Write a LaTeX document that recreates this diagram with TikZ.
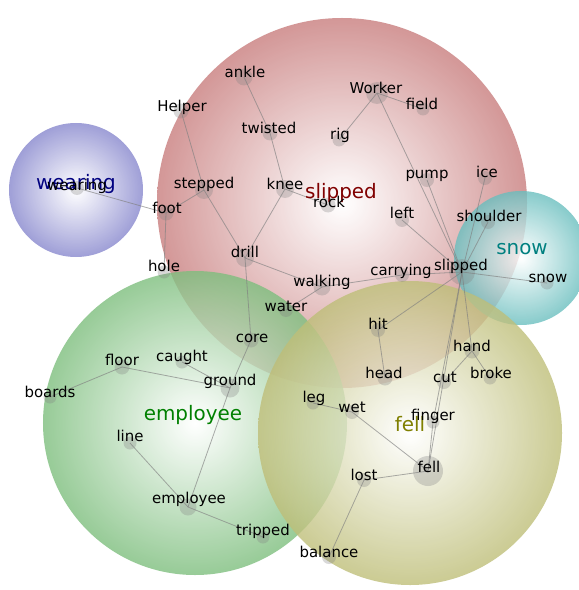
\documentclass[tikz,border=0pt]{standalone}
\usepackage{fontspec}
\setsansfont{DejaVu Sans}

\definecolor{slipcol}{RGB}{200,125,125}
\definecolor{wearcol}{RGB}{135,135,205}
\definecolor{snowcol}{RGB}{105,190,190}
\definecolor{emplcol}{RGB}{125,190,125}
\definecolor{fellcol}{RGB}{190,190,120}

\pgfdeclarelayer{bubbles}
\pgfdeclarelayer{links}
\pgfsetlayers{bubbles,links,main}

\tikzset{
  bubble/.style={inner color=white, fill opacity=0.8},
  dot/.style={circle, fill=gray, fill opacity=0.3, inner sep=0pt},
  word/.style={font=\sffamily\fontsize{15}{17}\selectfont, text=black, inner sep=0pt},
  topic/.style={font=\sffamily\fontsize{20}{22}\selectfont, inner sep=0pt},
  link/.style={draw=gray, opacity=0.65, line width=0.8bp},
}

\begin{document}
\begin{tikzpicture}[x=1bp,y=-1bp]
\useasboundingbox (0,0) rectangle (579,590);

% ---- topic bubbles ----
\begin{pgfonlayer}{bubbles}
  \shade[bubble, outer color=slipcol] (342,203) circle (185bp);
  \shade[bubble, outer color=wearcol] (76,190) circle (67bp);
  \shade[bubble, outer color=snowcol] (521,258) circle (67bp);
  \shade[bubble, outer color=emplcol] (195,423) circle (152bp);
  \shade[bubble, outer color=fellcol] (410,433) circle (152bp);
\end{pgfonlayer}

% ---- word dots ----
\node[dot, minimum size=17bp] (ankle) at (244,77) {};
\node[dot, minimum size=15bp] (helper) at (181,111) {};
\node[dot, minimum size=15bp] (twisted) at (270,133) {};
\node[dot, minimum size=18bp] (stepped) at (204,190) {};
\node[dot, minimum size=15bp] (foot) at (166,213) {};
\node[dot, minimum size=14bp] (wearing) at (77,188) {};
\node[dot, minimum size=18bp] (knee) at (285,189) {};
\node[dot, minimum size=15bp] (rock) at (328,205) {};
\node[dot, minimum size=18bp] (drill) at (245,258) {};
\node[dot, minimum size=13bp] (hole) at (164,272) {};
\node[dot, minimum size=17bp] (walking) at (322,287) {};
\node[dot, minimum size=14bp] (water) at (286,310) {};
\node[dot, minimum size=15bp] (core) at (251,340) {};
\node[dot, minimum size=22bp] (worker) at (377,93) {};
\node[dot, minimum size=13bp] (field) at (423,109) {};
\node[dot, minimum size=13bp] (rig) at (339,140) {};
\node[dot, minimum size=14bp] (pump) at (427,180) {};
\node[dot, minimum size=14bp] (ice) at (485,178) {};
\node[dot, minimum size=14bp] (leftw) at (402,220) {};
\node[dot, minimum size=14bp] (shoulder) at (488,222) {};
\node[dot, minimum size=26bp] (slipped) at (462,272) {};
\node[dot, minimum size=14bp] (carrying) at (402,275) {};
\node[dot, minimum size=13bp] (snow) at (547,283) {};
\node[dot, minimum size=14bp] (hit) at (378,330) {};
\node[dot, minimum size=15bp] (head) at (385,378) {};
\node[dot, minimum size=15bp] (hand) at (472,351) {};
\node[dot, minimum size=14bp] (cut) at (444,382) {};
\node[dot, minimum size=13bp] (broke) at (490,378) {};
\node[dot, minimum size=13bp] (leg) at (313,403) {};
\node[dot, minimum size=14bp] (wet) at (352,412) {};
\node[dot, minimum size=13bp] (finger) at (433,422) {};
\node[dot, minimum size=30bp] (fell) at (428,471) {};
\node[dot, minimum size=14bp] (lost) at (364,480) {};
\node[dot, minimum size=14bp] (balance) at (329,557) {};
\node[dot, minimum size=15bp] (floor) at (122,367) {};
\node[dot, minimum size=13bp] (caught) at (182,362) {};
\node[dot, minimum size=19bp] (ground) at (230,388) {};
\node[dot, minimum size=13bp] (boards) at (50,397) {};
\node[dot, minimum size=13bp] (line) at (130,443) {};
\node[dot, minimum size=17bp] (employee) at (188,507) {};
\node[dot, minimum size=13bp] (tripped) at (263,537) {};

% ---- links ----
\begin{pgfonlayer}{links}
  \draw[link] (wearing.center) -- (foot.center);
  \draw[link] (foot.center) -- (stepped.center);
  \draw[link] (foot.center) -- (hole.center);
  \draw[link] (helper.center) -- (stepped.center);
  \draw[link] (stepped.center) -- (drill.center);
  \draw[link] (ankle.center) -- (twisted.center);
  \draw[link] (twisted.center) -- (knee.center);
  \draw[link] (knee.center) -- (rock.center);
  \draw[link] (knee.center) -- (drill.center);
  \draw[link] (drill.center) -- (walking.center);
  \draw[link] (drill.center) -- (core.center);
  \draw[link] (walking.center) -- (water.center);
  \draw[link] (walking.center) -- (carrying.center);
  \draw[link] (carrying.center) -- (slipped.center);
  \draw[link] (worker.center) -- (rig.center);
  \draw[link] (worker.center) -- (field.center);
  \draw[link] (worker.center) -- (slipped.center);
  \draw[link] (pump.center) -- (slipped.center);
  \draw[link] (ice.center) -- (slipped.center);
  \draw[link] (leftw.center) -- (slipped.center);
  \draw[link] (shoulder.center) -- (slipped.center);
  \draw[link] (slipped.center) -- (snow.center);
  \draw[link] (slipped.center) -- (hit.center);
  \draw[link] (hit.center) -- (head.center);
  \draw[link] (slipped.center) -- (hand.center);
  \draw[link] (slipped.center) -- (finger.center);
  \draw[link] (slipped.center) -- (fell.center);
  \draw[link] (finger.center) -- (fell.center);
  \draw[link] (cut.center) -- (hand.center);
  \draw[link] (hand.center) -- (broke.center);
  \draw[link] (core.center) -- (ground.center);
  \draw[link] (ground.center) -- (caught.center);
  \draw[link] (ground.center) -- (floor.center);
  \draw[link] (floor.center) -- (boards.center);
  \draw[link] (ground.center) -- (employee.center);
  \draw[link] (line.center) -- (employee.center);
  \draw[link] (employee.center) -- (tripped.center);
  \draw[link] (leg.center) -- (wet.center);
  \draw[link] (wet.center) -- (fell.center);
  \draw[link] (fell.center) -- (lost.center);
  \draw[link] (lost.center) -- (balance.center);
\end{pgfonlayer}

% ---- topic labels ----
\node[topic, text={rgb,255:red,128;green,0;blue,0}] (slipped-t) at (341,193) {slipped};
\node[topic, text={rgb,255:red,0;green,0;blue,128}] (wearing-t) at (76,184) {wearing};
\node[topic, text={rgb,255:red,0;green,128;blue,128}] (snow-t) at (522,249) {snow};
\node[topic, text={rgb,255:red,0;green,128;blue,0}] (employee-t) at (193,415) {employee};
\node[topic, text={rgb,255:red,128;green,128;blue,0}] (fell-t) at (410,424) {fell};

% ---- words ----
\node[word] (ankle-l) at (245,72) {ankle};
\node[word] (helper-l) at (182,107) {Helper};
\node[word] (twisted-l) at (269,128) {twisted};
\node[word] (stepped-l) at (204,184) {stepped};
\node[word] (foot-l) at (167,208) {foot};
\node[word] (wearing-l) at (77,186) {wearing};
\node[word] (knee-l) at (285,184) {knee};
\node[word] (rock-l) at (329,202) {rock};
\node[word] (drill-l) at (245,252) {drill};
\node[word] (hole-l) at (164,266) {hole};
\node[word] (walking-l) at (322,282) {walking};
\node[word] (water-l) at (286,306) {water};
\node[word] (core-l) at (252,338) {core};
\node[word] (worker-l) at (376,88) {Worker};
\node[word] (field-l) at (422,104) {field};
\node[word] (rig-l) at (340,135) {rig};
\node[word] (pump-l) at (427,176) {pump};
\node[word] (ice-l) at (487,172) {ice};
\node[word] (left-l) at (402,213) {left};
\node[word] (shoulder-l) at (489,216) {shoulder};
\node[word] (slipped-l) at (461,266) {slipped};
\node[word] (carrying-l) at (401,271) {carrying};
\node[word] (snow-l) at (548,278) {snow};
\node[word] (hit-l) at (378,324) {hit};
\node[word] (head-l) at (384,373) {head};
\node[word] (hand-l) at (472,346) {hand};
\node[word] (cut-l) at (445,377) {cut};
\node[word] (broke-l) at (491,373) {broke};
\node[word] (leg-l) at (314,398) {leg};
\node[word] (wet-l) at (352,407) {wet};
\node[word] (finger-l) at (433,416) {finger};
\node[word] (fell-l) at (429,467) {fell};
\node[word] (lost-l) at (364,475) {lost};
\node[word] (balance-l) at (329,552) {balance};
\node[word] (floor-l) at (122,360) {floor};
\node[word] (caught-l) at (182,357) {caught};
\node[word] (ground-l) at (230,381) {ground};
\node[word] (boards-l) at (50,392) {boards};
\node[word] (line-l) at (130,436) {line};
\node[word] (employee-l) at (189,499) {employee};
\node[word] (tripped-l) at (263,531) {tripped};
\end{tikzpicture}
\end{document}
